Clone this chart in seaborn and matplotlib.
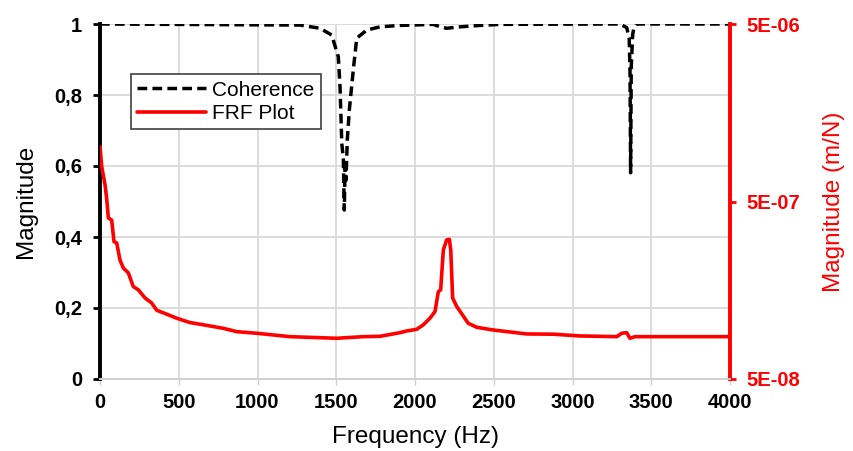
import matplotlib
matplotlib.use("Agg")
import matplotlib.pyplot as plt
import seaborn as sns
from matplotlib.ticker import NullLocator

# ===================== 数据 =====================
coh_freq = [0, 1270, 1397, 1471, 1513, 1524, 1535, 1545, 1551, 1556, 1562, 1570, 1583,
            1608, 1630, 1694, 1778, 1905, 2116, 2159, 2201, 2286, 2413, 2540,
            3300, 3344, 3360, 3365, 3369, 3373, 3382, 3390, 3407, 4000]
coh_val = [1.0, 0.997, 0.988, 0.969, 0.908, 0.823, 0.665, 0.62, 0.476, 0.60, 0.56, 0.673, 0.758,
           0.870, 0.960, 0.983, 0.992, 0.996, 0.999, 0.992, 0.988, 0.992, 0.996, 0.999,
           1.0, 0.99, 0.96, 0.87, 0.581, 0.88, 0.97, 0.99, 1.0, 1.0]

frf_freq = [0, 11, 32, 42, 53, 74, 89, 106, 127, 148,
            180, 211, 243, 286, 328, 360, 423, 487, 571, 656,
            783, 868, 995, 1206, 1503, 1672, 1778, 1905, 1947, 2011,
            2053, 2095, 2127, 2148, 2163, 2180, 2201, 2218, 2227, 2239,
            2265, 2338, 2392, 2497, 2709, 2878, 3048, 3281, 3312, 3344,
            3365, 3397, 4000]
frf_val = [1.02e-6, 7.85e-7, 6.2e-7, 5.23e-7, 4.04e-7, 3.93e-7, 2.97e-7, 2.92e-7, 2.34e-7, 2.11e-7,
           1.98e-7, 1.66e-7, 1.59e-7, 1.43e-7, 1.34e-7, 1.22e-7, 1.16e-7, 1.10e-7, 1.04e-7, 1.01e-7,
           9.65e-8, 9.24e-8, 9.05e-8, 8.66e-8, 8.48e-8, 8.66e-8, 8.7e-8, 9.12e-8, 9.32e-8, 9.53e-8,
           1.01e-7, 1.10e-7, 1.20e-7, 1.55e-7, 1.59e-7, 2.67e-7, 3.04e-7, 3.06e-7, 2.67e-7, 1.43e-7,
           1.28e-7, 1.03e-7, 9.78e-8, 9.44e-8, 8.97e-8, 8.94e-8, 8.74e-8, 8.66e-8, 9.05e-8, 9.12e-8,
           8.48e-8, 8.66e-8, 8.66e-8]

x_ticks = [0, 500, 1000, 1500, 2000, 2500, 3000, 3500, 4000]
left_ticks = [0, 0.2, 0.4, 0.6, 0.8, 1.0]
left_labels = ["0", "0,2", "0,4", "0,6", "0,8", "1"]
right_ticks = [5e-8, 5e-7, 5e-6]
right_labels = ["5E-08", "5E-07", "5E-06"]

# ===================== 样式 =====================
sns.set_style("whitegrid")
plt.rcParams['font.family'] = ['Liberation Sans', 'DejaVu Sans']
plt.rcParams['text.color'] = 'black'
plt.rcParams['axes.labelcolor'] = 'black'
plt.rcParams['xtick.color'] = 'black'
plt.rcParams['ytick.color'] = 'black'

fig = plt.figure(figsize=(8.54, 4.51), dpi=100)
ax1 = fig.add_axes([100 / 854, 1 - 379 / 451, 630 / 854, 355 / 451])
ax2 = ax1.twinx()

sns.lineplot(x=coh_freq, y=coh_val, ax=ax1, color="black", linewidth=2.5,
             estimator=None, label="Coherence")
ax1.lines[0].set_dashes((2.8, 1.5))
sns.lineplot(x=frf_freq, y=frf_val, ax=ax2, color="red", linewidth=2.6,
             estimator=None, label="FRF Plot")

# 左轴
ax1.set_xlim(0, 4000)
ax1.set_ylim(0, 1)
ax1.set_xticks(x_ticks)
ax1.set_xticklabels([str(t) for t in x_ticks], fontweight="bold", fontsize=14.5)
ax1.set_yticks(left_ticks)
ax1.set_yticklabels(left_labels, fontweight="bold", fontsize=14.5)
ax1.set_xlabel("Frequency (Hz)", fontsize=17.5, labelpad=10)
ax1.set_ylabel("Magnitude", fontsize=17.5, labelpad=12)
ax1.grid(True, color="#d9d9d9", linewidth=1.3)
ax1.tick_params(axis="y", left=True, length=5, width=2, color="black", pad=8)
ax1.tick_params(axis="x", bottom=True, length=4, width=1, color="#d0d0d0", pad=6)

# 右轴（对数）
ax2.set_yscale("log")
ax2.set_ylim(5e-8, 5e-6)
ax2.set_yticks(right_ticks)
ax2.set_yticklabels(right_labels, fontweight="bold", fontsize=14.5, color="red")
ax2.yaxis.set_minor_locator(NullLocator())
ax2.set_ylabel("Magnitude (m/N)", fontsize=17.5, color="red", labelpad=16)
ax2.grid(False)
ax2.tick_params(axis="y", right=True, length=4, width=2, color="red", pad=8)

for ax in (ax1, ax2):
    ax.spines["top"].set_visible(False)
    ax.spines["bottom"].set_color("#d0d0d0")
    ax.spines["bottom"].set_linewidth(1.3)
ax2.spines["left"].set_visible(False)
ax1.spines["right"].set_visible(False)
ax1.spines["left"].set_color("black")
ax1.spines["left"].set_linewidth(2.8)
ax2.spines["right"].set_color("red")
ax2.spines["right"].set_linewidth(2.8)

# 图例
h1, l1 = ax1.get_legend_handles_labels()
h2, l2 = ax2.get_legend_handles_labels()
if ax1.get_legend():
    ax1.get_legend().remove()
leg = ax2.legend(h1 + h2, l1 + l2, loc="upper left", bbox_to_anchor=(0.049, 0.858),
                 borderaxespad=0, fontsize=15, frameon=True, fancybox=False,
                 handlelength=3.3, borderpad=0.3, labelspacing=0.2, handletextpad=0.3)
leg.get_frame().set_edgecolor("#404040")
leg.get_frame().set_linewidth(1.2)
leg.get_frame().set_alpha(1)

fig.savefig("out.png", dpi=100)
